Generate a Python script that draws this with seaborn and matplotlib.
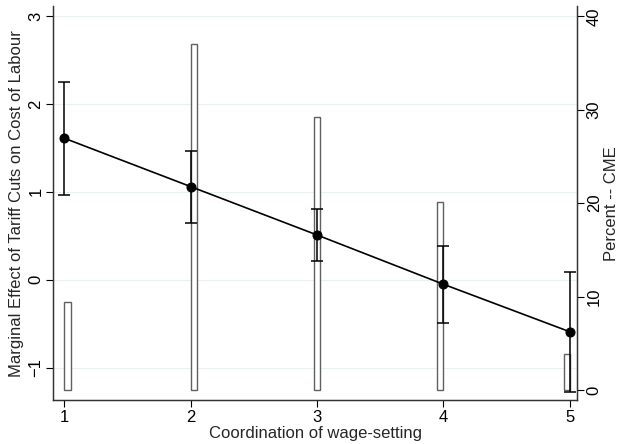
import numpy as np
import matplotlib
matplotlib.use("Agg")
import matplotlib.pyplot as plt
import seaborn as sns

# -----------------------------
# Data
# -----------------------------
coordination = [1, 2, 3, 4, 5]
marginal_effect = [1.61, 1.06, 0.51, -0.05, -0.59]
ci_half = [0.64, 0.41, 0.30, 0.44, 0.68]

# histogram of CME share (right axis), bins of width 0.05
bin_left = [1.0, 2.0, 2.975, 3.95, 4.95]
percent_cme = [9.4, 37.0, 29.2, 20.1, 3.9]

sns.set_theme(style="ticks")
plt.rcParams["font.family"] = ["Liberation Sans", "DejaVu Sans"]
fs = 12

fig = plt.figure(figsize=(6.19, 4.44), dpi=100)
ax = fig.add_axes([0.086, 0.099, 0.846, 0.887])

# left axis: faint grid only
ax.set_xlim(0.913, 5.056)
ax.set_ylim(-1.366, 3.11)
ax.set_yticks([-1, 0, 1, 2, 3])
ax.set_xticks(coordination)
ax.grid(axis="y", color="#e9f1f1", linewidth=0.8)
ax.set_axisbelow(True)

# right axis: histogram bars
ax2 = ax.twinx()
ax2.bar(bin_left, percent_cme, width=0.05, align="edge",
        facecolor="white", edgecolor="#606060", linewidth=1.0)
ax2.set_ylim(-1.07, 41.08)
ax2.set_yticks([0, 10, 20, 30, 40])

# overlay axis for the marginal effect line
ax3 = ax.twinx()
ax3.set_ylim(ax.get_ylim())
ax3.axis("off")
ax3.errorbar(coordination, marginal_effect, yerr=ci_half, fmt="none",
             ecolor="black", elinewidth=1.1, capsize=4.5, capthick=1.1)
sns.lineplot(x=coordination, y=marginal_effect, ax=ax3, color="black",
             linewidth=1.2, marker="o", markersize=6.5, markeredgecolor="black")

for a in (ax, ax2):
    a.spines["top"].set_visible(False)
    a.tick_params(direction="out", length=5, width=0.8, colors="black",
                  labelsize=fs, pad=2)
    for s in a.spines.values():
        s.set_color("#333333")
        s.set_linewidth(0.9)

for lab in ax.get_yticklabels() + ax2.get_yticklabels():
    lab.set_rotation(90)
    lab.set_va("center")

ax.set_xlabel("Coordination of wage-setting", fontsize=fs, labelpad=1)
ax.set_ylabel("Marginal Effect of Tariff Cuts on Cost of Labour",
              fontsize=fs, labelpad=3)
ax2.set_ylabel("Percent -- CME", fontsize=fs, rotation=90, labelpad=2)

fig.savefig("out.png", dpi=100)
plt.close()
